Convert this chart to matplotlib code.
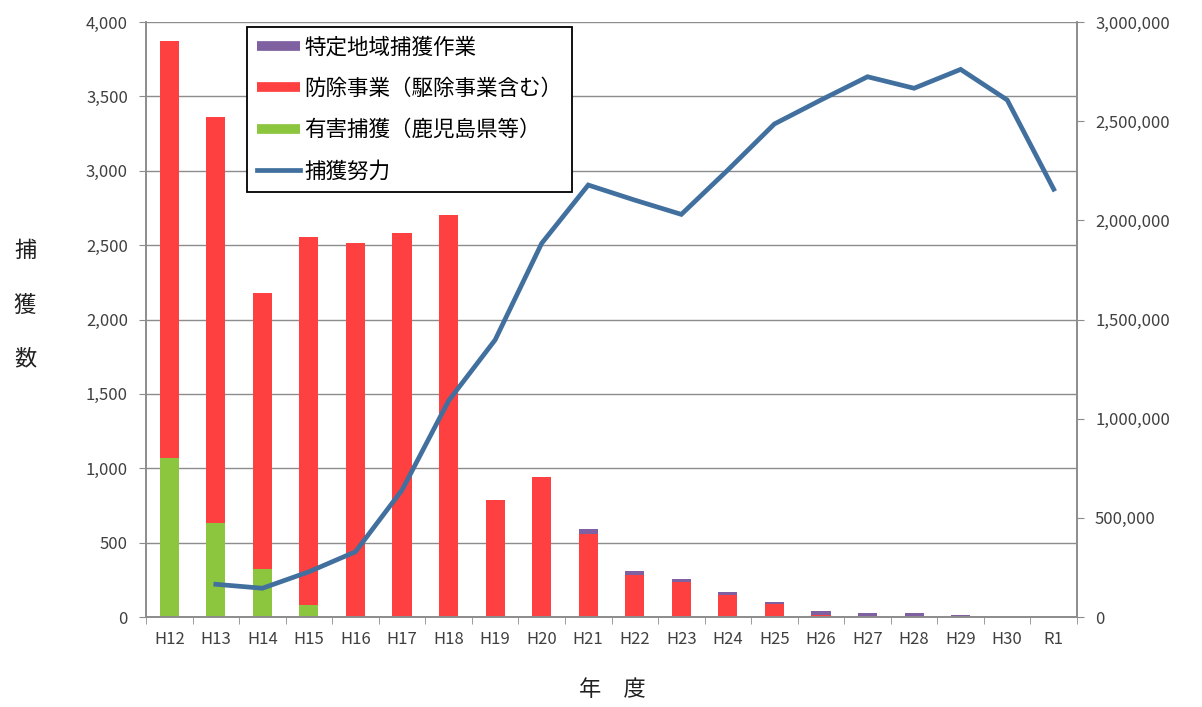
import numpy as np
import matplotlib
matplotlib.use('Agg')
import matplotlib.pyplot as plt
from matplotlib.lines import Line2D
from matplotlib.ticker import FuncFormatter, FixedLocator

plt.rcParams['font.family'] = ['Noto Sans CJK JP', 'DejaVu Sans']

years = ['H12', 'H13', 'H14', 'H15', 'H16', 'H17', 'H18', 'H19', 'H20', 'H21',
         'H22', 'H23', 'H24', 'H25', 'H26', 'H27', 'H28', 'H29', 'H30', 'R1']
# 有害捕獲（鹿児島県等）
yugai = [1070, 630, 322, 80, 0, 0, 0, 0, 0, 0, 0, 0, 0, 0, 0, 0, 0, 0, 0, 0]
# 防除事業（駆除事業含む）
bojo = [2805, 2734, 1856, 2475, 2516, 2580, 2702, 786, 939, 561,
        284, 236, 150, 88, 15, 9, 9, 3, 0, 0]
# 特定地域捕獲作業
tokutei = [0, 0, 0, 0, 0, 0, 0, 0, 0, 30, 26, 20, 17, 15, 25, 15, 18, 10, 0, 0]
# 捕獲努力
effort = [np.nan, 165000, 145000, 228000, 329000, 640000, 1090000, 1397000, 1884000, 2178000,
          2102000, 2030000, 2254000, 2486000, 2607000, 2724000, 2666000, 2761000, 2607000, 2157000]

c_red = '#ff4040'
c_green = '#8cc63f'
c_purple = '#7f60a0'
c_line = '#41709f'
c_axis = '#8c8c8c'
c_text = '#404040'

fig = plt.figure(figsize=(12.02, 7.07), dpi=100)
ax = fig.add_axes([146 / 1202, 90 / 707, 931 / 1202, 595 / 707])
ax2 = ax.twinx()

x = np.arange(len(years))
w = 0.41
yugai = np.array(yugai)
bojo = np.array(bojo)
tokutei = np.array(tokutei)
ax.bar(x, yugai, w, color=c_green, zorder=2)
ax.bar(x, bojo, w, bottom=yugai, color=c_red, zorder=2)
ax.bar(x, tokutei, w, bottom=yugai + bojo, color=c_purple, zorder=2)

ax2.plot(x, effort, color=c_line, linewidth=3.4, solid_joinstyle='miter', zorder=3)

ax.set_xlim(-0.5, len(years) - 0.5)
ax.set_ylim(0, 4000)
ax2.set_ylim(0, 3000000)

ax.set_yticks(np.arange(0, 4001, 500))
ax2.set_yticks(np.arange(0, 3000001, 500000))
fmt = FuncFormatter(lambda v, p: f'{int(v):,}')
ax.yaxis.set_major_formatter(fmt)
ax2.yaxis.set_major_formatter(fmt)

ax.set_xticks(x)
ax.set_xticklabels(years)
ax.xaxis.set_minor_locator(FixedLocator(np.arange(-0.5, len(years), 1)))
ax.tick_params(axis='x', which='major', length=0, pad=10, labelsize=12, labelcolor=c_text)
ax.tick_params(axis='x', which='minor', length=5, color=c_axis, direction='out')
ax.tick_params(axis='y', length=5, color=c_axis, labelsize=12, labelcolor=c_text, pad=8)
ax2.tick_params(axis='y', length=5, color=c_axis, labelsize=12, labelcolor=c_text, pad=8)

ax.grid(axis='y', color='#8c8c8c', linewidth=1, zorder=0)
ax.set_axisbelow(True)
for a in (ax, ax2):
    a.spines['top'].set_visible(False)
    for s in ('left', 'right', 'bottom'):
        a.spines[s].set_color(c_axis)
        a.spines[s].set_linewidth(1.2)

for ch, yy in zip(['捕', '獲', '数'], [251, 305, 359]):
    fig.text(25 / 1202, 1 - yy / 707, ch, fontsize=16, ha='center', va='center', color='#202020')
fig.text(612 / 1202, 1 - 690 / 707, '年　度', fontsize=16, ha='center', va='center', color='#202020')

handles = [
    Line2D([], [], color=c_purple, linewidth=7, solid_capstyle='butt'),
    Line2D([], [], color=c_red, linewidth=7, solid_capstyle='butt'),
    Line2D([], [], color=c_green, linewidth=7, solid_capstyle='butt'),
    Line2D([], [], color=c_line, linewidth=3.4),
]
labels = ['特定地域捕獲作業', '防除事業（駆除事業含む）', '有害捕獲（鹿児島県等）', '捕獲努力']
leg = ax2.legend(handles, labels, loc='upper left', bbox_to_anchor=(0.109, 0.992),
                 borderaxespad=0, fontsize=15.5, fancybox=False, framealpha=1,
                 edgecolor='black', handlelength=2.0, handletextpad=0.2,
                 labelspacing=0.9, borderpad=0.45)
leg.get_frame().set_linewidth(1.3)
leg.set_zorder(10)

fig.savefig('out.png', dpi=100)
